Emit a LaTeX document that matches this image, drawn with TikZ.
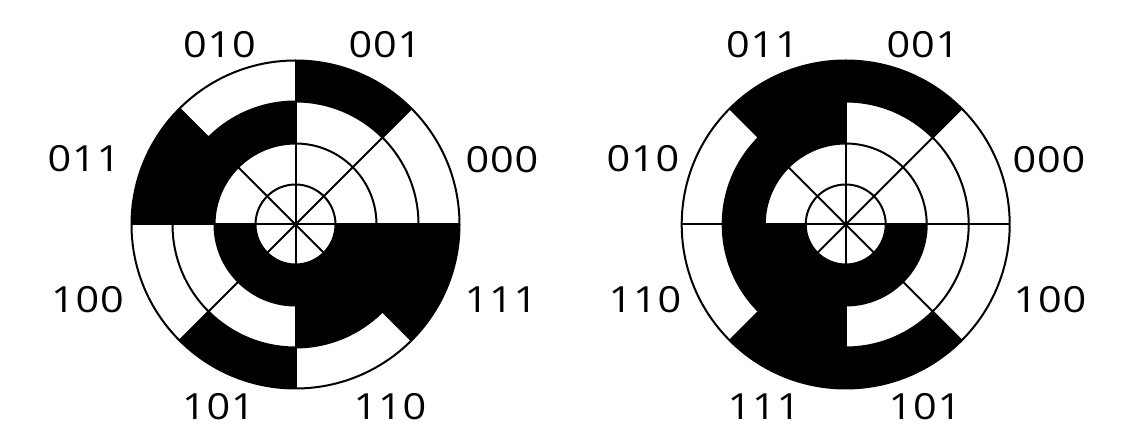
\documentclass[tikz,border=0pt]{standalone}
\usepackage{fontspec}
\setmainfont{Open Sans}[FakeStretch=1.15]
\newcommand{\bitcode}[3]{\makebox[24.5pt]{#1}\makebox[24.5pt]{#2}\makebox[24.5pt]{#3}}
\tikzset{
  discline/.style={line width=2pt, draw=black},
  codelabel/.style={inner sep=0pt, font=\fontsize{36}{40}\selectfont},
}
\newcommand{\drawdisc}[2]{%
\begin{scope}[shift={#1}]
  \foreach \ba/\bb/\bc [count=\k from 0] in {#2} {
    \pgfmathsetmacro\aa{45*\k}
    \pgfmathsetmacro\ab{45*\k+45}
    \ifnum\ba=1
      \fill[black] (\aa:81pt) arc[start angle=\aa, end angle=\ab, radius=81pt] -- (\ab:40pt) arc[start angle=\ab, end angle=\aa, radius=40pt] -- cycle;
    \fi
    \ifnum\bb=1
      \fill[black] (\aa:123pt) arc[start angle=\aa, end angle=\ab, radius=123pt] -- (\ab:81pt) arc[start angle=\ab, end angle=\aa, radius=81pt] -- cycle;
    \fi
    \ifnum\bc=1
      \fill[black] (\aa:164pt) arc[start angle=\aa, end angle=\ab, radius=164pt] -- (\ab:123pt) arc[start angle=\ab, end angle=\aa, radius=123pt] -- cycle;
    \fi
  }
  \foreach \r in {40,81,123,164} \draw[discline] (0,0) circle[radius=\r pt];
  \foreach \a in {0,45,...,315} \draw[discline] (0,0) -- (\a:164pt);
\end{scope}}
\begin{document}
\begin{tikzpicture}
\useasboundingbox[fill=white] (0,0) rectangle (1140pt,433pt);
\coordinate (cl) at (295.5pt,208.5pt);
\coordinate (cr) at (845.7pt,208.5pt);
% left disc: binary code
\drawdisc{(cl)}{0/0/0,0/0/1,0/1/0,0/1/1,1/0/0,1/0/1,1/1/0,1/1/1}
% right disc: Gray code
\drawdisc{(cr)}{0/0/0,0/0/1,0/1/1,0/1/0,1/1/0,1/1/1,1/0/1,1/0/0}
% labels left
\node[codelabel] (l000) at (502pt,273pt) {\bitcode 000};
\node[codelabel] (l001) at (385pt,388.5pt) {\bitcode 001};
\node[codelabel] (l010) at (219.5pt,388.5pt) {\bitcode 010};
\node[codelabel] (l011) at (84pt,274pt) {\bitcode 011};
\node[codelabel] (l100) at (87.5pt,133pt) {\bitcode 100};
\node[codelabel] (l101) at (218.5pt,26.5pt) {\bitcode 101};
\node[codelabel] (l110) at (390pt,26.5pt) {\bitcode 110};
\node[codelabel] (l111) at (501pt,133pt) {\bitcode 111};
% labels right
\node[codelabel] (r000) at (1049pt,273pt) {\bitcode 000};
\node[codelabel] (r001) at (923pt,388.5pt) {\bitcode 001};
\node[codelabel] (r011) at (762.5pt,388.5pt) {\bitcode 011};
\node[codelabel] (r010) at (643pt,274pt) {\bitcode 010};
\node[codelabel] (r110) at (645pt,133pt) {\bitcode 110};
\node[codelabel] (r111) at (764pt,26.5pt) {\bitcode 111};
\node[codelabel] (r101) at (925pt,26.5pt) {\bitcode 101};
\node[codelabel] (r100) at (1050pt,133pt) {\bitcode 100};
\end{tikzpicture}
\end{document}
